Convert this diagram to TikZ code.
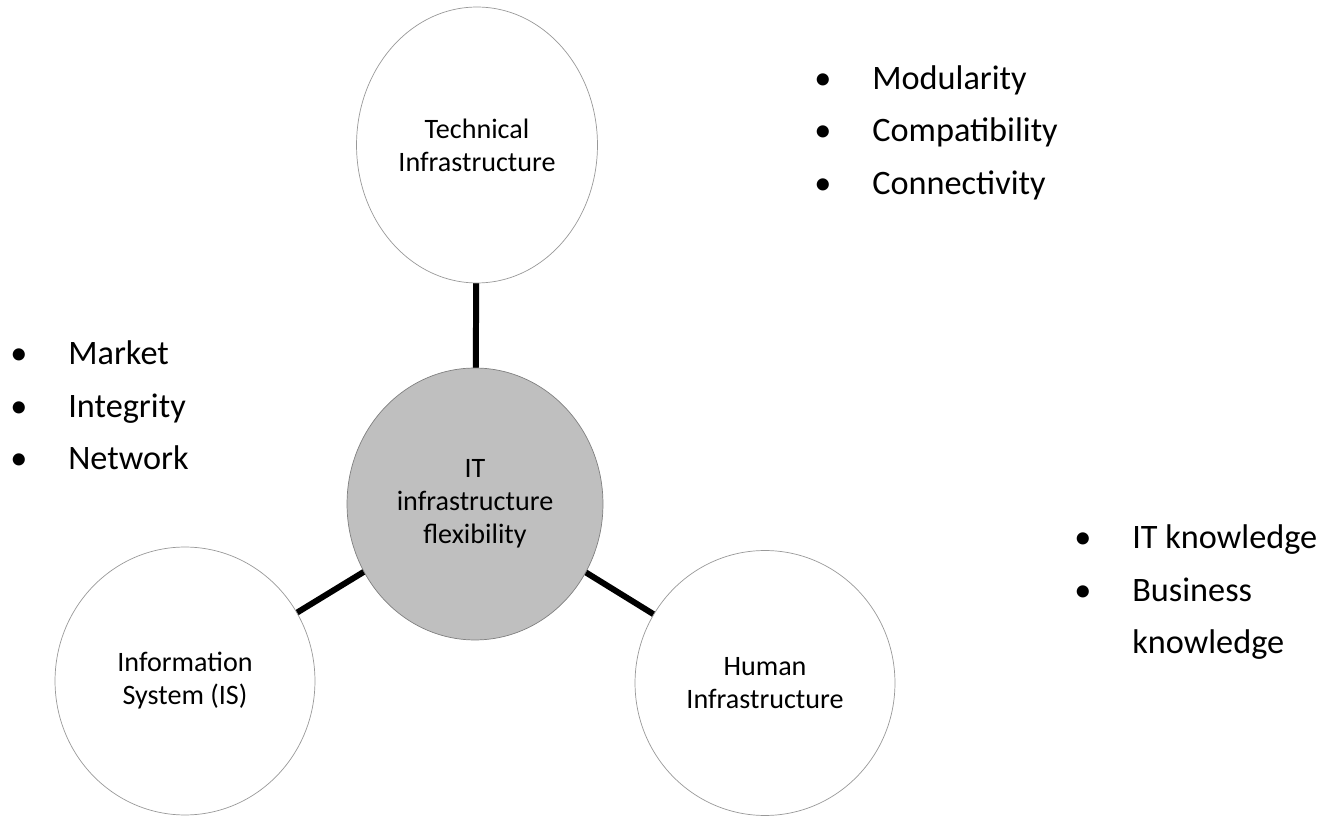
\documentclass[tikz,border=0pt]{standalone}
\usepackage{fontspec}
\setmainfont{Carlito}
\usetikzlibrary{shapes.geometric}

\begin{document}
\begin{tikzpicture}[x=0.02cm, y=-0.02cm,
       every node/.style={font=\fontsize{16}{18.8}\selectfont, align=center, inner sep=0pt},
       bubble/.style={draw=gray!80, thin, fill=white, ellipse,
             minimum width=5.2cm, minimum height=5.4cm},
       core/.style={bubble, fill=gray!50, draw=gray},
       link/.style={line width=3.4pt, black},
       points/.style={font=\fontsize{19.5}{29.6}\selectfont, anchor=base west}]
\useasboundingbox (0,0) rectangle (1333,820);

% links first, bubbles on top
\coordinate (c) at (475,504);
\coordinate (t) at (477,145);
\coordinate (i) at (185,681);
\coordinate (h) at (765,683);
\draw[link] (t) -- (c);
\draw[link] (i) -- (c);
\draw[link] (h) -- (c);

\node[core, minimum width=5.12cm, minimum height=5.44cm] (flex) at (c)
    {IT\\ infrastructure\\ flexibility};
\node[bubble, minimum width=4.82cm, minimum height=5.52cm] (tech) at (t)
    {Technical\\ Infrastructure};
\node[bubble, minimum height=5.36cm] (info) at (i)
    {Information\\ System (IS)};
\node[bubble, minimum height=5.3cm] (human) at (h)
    {Human\\ Infrastructure};

% bullet lists
\node[points] (techlist) at (872,90)
    {\begin{tabular}[t]{@{}l@{}}
     \llap{\textbullet\hspace{0.82cm}}Modularity\\
     \llap{\textbullet\hspace{0.82cm}}Compatibility\\
     \llap{\textbullet\hspace{0.82cm}}Connectivity
     \end{tabular}};
\node[points] (infolist) at (68,365)
    {\begin{tabular}[t]{@{}l@{}}
     \llap{\textbullet\hspace{0.82cm}}Market\\
     \llap{\textbullet\hspace{0.82cm}}Integrity\\
     \llap{\textbullet\hspace{0.82cm}}Network
     \end{tabular}};
\node[points] (humanlist) at (1132,549)
    {\begin{tabular}[t]{@{}l@{}}
     \llap{\textbullet\hspace{0.82cm}}IT knowledge\\
     \llap{\textbullet\hspace{0.82cm}}Business\\
     knowledge
     \end{tabular}};
\end{tikzpicture}
\end{document}
